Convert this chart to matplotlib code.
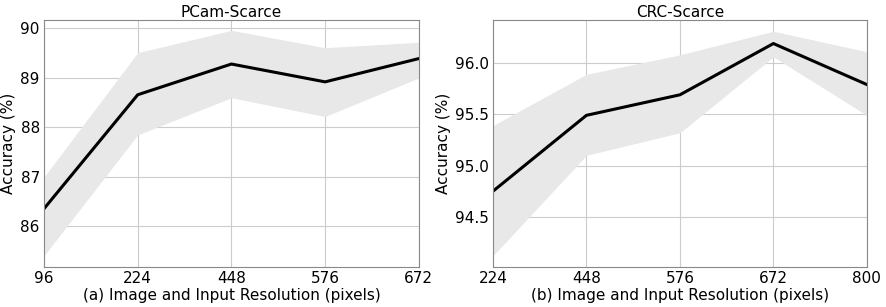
import matplotlib
matplotlib.use("Agg")
import matplotlib.pyplot as plt

# PCam-Scarce
pcam_res = ["96", "224", "448", "576", "672"]
pcam_mean = [86.36, 88.66, 89.28, 88.92, 89.39]
pcam_low = [85.41, 87.85, 88.60, 88.22, 89.00]
pcam_high = [87.00, 89.51, 89.96, 89.61, 89.72]

# CRC-Scarce
crc_res = ["224", "448", "576", "672", "800"]
crc_mean = [94.75, 95.49, 95.69, 96.19, 95.79]
crc_low = [94.12, 95.10, 95.32, 96.06, 95.49]
crc_high = [95.39, 95.89, 96.08, 96.31, 96.11]

fig = plt.figure(figsize=(8.86, 3.07), dpi=100)
ax1 = fig.add_axes([0.0497, 0.130, 0.423, 0.805])
ax2 = fig.add_axes([0.5564, 0.130, 0.422, 0.805])


def draw(ax, labels, mean, low, high, title, xlabel, ylim, yticks, fmt):
    x = list(range(len(labels)))
    ax.fill_between(x, low, high, color="#e8e8e8", linewidth=0)
    ax.plot(x, mean, color="black", linewidth=2.2)
    ax.set_xlim(0, len(labels) - 1)
    ax.set_ylim(*ylim)
    ax.set_xticks(x)
    ax.set_xticklabels(labels)
    ax.set_yticks(yticks)
    ax.set_yticklabels([fmt.format(v) for v in yticks])
    ax.grid(True, color="#cccccc", linewidth=0.8)
    ax.set_axisbelow(True)
    ax.tick_params(length=0, labelsize=11, pad=3)
    for s in ax.spines.values():
        s.set_color("#888888")
        s.set_linewidth(0.8)
    ax.set_title(title, fontsize=11, pad=2)
    ax.set_xlabel(xlabel, fontsize=11, labelpad=1)
    ax.set_ylabel("Accuracy (%)", fontsize=11, labelpad=3)


draw(ax1, pcam_res, pcam_mean, pcam_low, pcam_high, "PCam-Scarce",
     "(a) Image and Input Resolution (pixels)", (85.18, 90.17),
     [86, 87, 88, 89, 90], "{:.0f}")
draw(ax2, crc_res, crc_mean, crc_low, crc_high, "CRC-Scarce",
     "(b) Image and Input Resolution (pixels)", (94.01, 96.42),
     [94.5, 95.0, 95.5, 96.0], "{:.1f}")

fig.savefig("out.png", dpi=100)
